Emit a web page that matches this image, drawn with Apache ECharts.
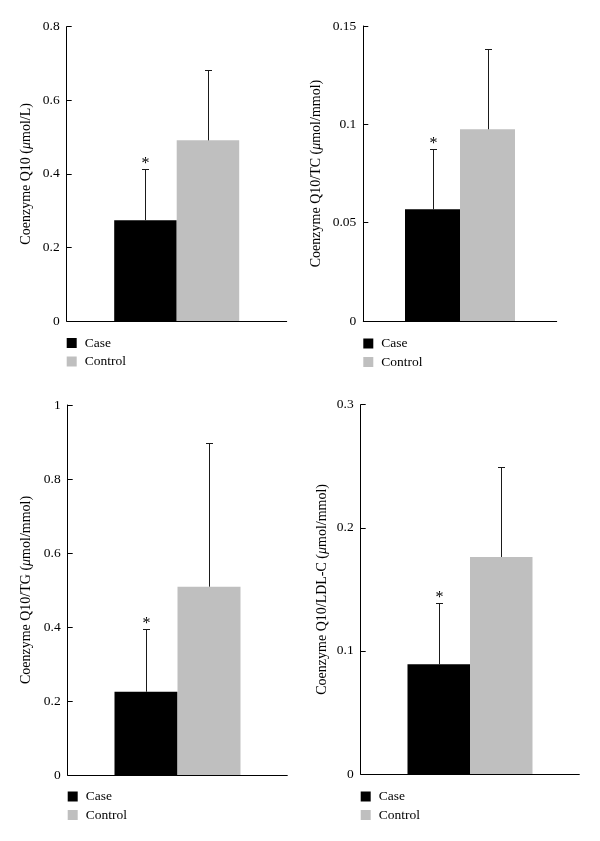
<!DOCTYPE html>
<html>
<head>
<meta charset="utf-8">
<script src="https://cdn.jsdelivr.net/npm/echarts@6/dist/echarts.min.js"></script>
<style>html,body{margin:0;padding:0;background:#fff}#c{width:600px;height:841px}</style>
</head>
<body>
<div id="c"></div>
<script>
const seriesNames = ['Case', 'Control'];
const yTitles = [
  'Coenzyme Q10 ({i|μ}mol/L)',
  'Coenzyme Q10/TC ({i|μ}mol/mmol)',
  'Coenzyme Q10/TG ({i|μ}mol/mmol)',
  'Coenzyme Q10/LDL-C ({i|μ}mol/mmol)'
];
const caseMeans = [0.274, 0.0568, 0.225, 0.0891];
const caseSD = [0.139, 0.0308, 0.170, 0.0501];
const controlMeans = [0.491, 0.0975, 0.509, 0.1763];
const controlSD = [0.191, 0.0407, 0.389, 0.0728];
const caseSignificant = [true, true, true, true];
const yMax = [0.8, 0.15, 1, 0.3];
const yInterval = [0.2, 0.05, 0.2, 0.1];

// layout (styles)
const grids = [
  {left: 66.7, top: 26.7, width: 220, height: 294.3},
  {left: 363.3, top: 26, width: 193.4, height: 295},
  {left: 67.7, top: 405, width: 219.6, height: 370},
  {left: 360.7, top: 404.7, width: 218.6, height: 369.3}
];
const barWidths = [62.5, 55, 63, 62.5];
const nameGaps = [33, 40, 34, 31];
const legendPos = [[66.7, 336], [363.3, 336.5], [67.7, 789.5], [360.7, 789.5]];
const FONT = 'Liberation Serif';
const FS = 13.5;

function makeRender(bw) {
  return function (params, api) {
    const cat = api.value(0), mean = api.value(1), sd = api.value(2), side = api.value(3), star = api.value(4);
    const base = api.coord([cat, mean]);
    const top = api.coord([cat, mean + sd]);
    const x = Math.round(base[0] + side * bw / 2) + 0.5;
    const ty = Math.round(top[1]) + 0.5;
    const children = [
      {type: 'line', shape: {x1: x, y1: base[1], x2: x, y2: ty}, style: {stroke: '#1a1a1a', lineWidth: 1}},
      {type: 'line', shape: {x1: x - 3.5, y1: ty, x2: x + 3.5, y2: ty}, style: {stroke: '#1a1a1a', lineWidth: 1}}
    ];
    if (star) {
      children.push({type: 'text', x: x, y: ty + 2, style: {text: '*', fontFamily: FONT, fontSize: 16, fill: '#000', align: 'center', verticalAlign: 'bottom'}});
    }
    return {type: 'group', children: children};
  };
}

const option = {animation: false, grid: [], xAxis: [], yAxis: [], series: [], legend: []};
for (let i = 0; i < 4; i++) {
  option.grid.push(Object.assign({containLabel: false}, grids[i]));
  option.xAxis.push({
    gridIndex: i, type: 'category', data: [''],
    axisLine: {show: true, lineStyle: {color: '#000', width: 1}},
    axisTick: {show: false}, axisLabel: {show: false}, splitLine: {show: false}
  });
  option.yAxis.push({
    gridIndex: i, type: 'value', min: 0, max: yMax[i], interval: yInterval[i],
    name: yTitles[i], nameLocation: 'middle', nameGap: nameGaps[i], nameRotate: 90,
    nameTextStyle: {fontFamily: FONT, fontSize: 14, color: '#000',
      rich: {i: {fontFamily: FONT, fontSize: 14, fontStyle: 'italic', color: '#000'}}},
    axisLine: {show: true, lineStyle: {color: '#000', width: 1}},
    axisTick: {show: true, inside: true, length: 5, lineStyle: {color: '#000', width: 1}},
    axisLabel: {fontFamily: FONT, fontSize: FS, color: '#000', margin: 7},
    splitLine: {show: false}
  });
  option.series.push({
    type: 'bar', name: seriesNames[0], xAxisIndex: i, yAxisIndex: i,
    data: [caseMeans[i]], barWidth: barWidths[i], barGap: '0%',
    itemStyle: {color: '#000'}
  });
  option.series.push({
    type: 'bar', name: seriesNames[1], xAxisIndex: i, yAxisIndex: i,
    data: [controlMeans[i]], barWidth: barWidths[i], barGap: '0%',
    itemStyle: {color: '#bfbfbf'}
  });
  option.series.push({
    type: 'custom', xAxisIndex: i, yAxisIndex: i, silent: true, z: 10,
    renderItem: makeRender(barWidths[i]),
    data: [
      [0, caseMeans[i], caseSD[i], -1, caseSignificant[i] ? 1 : 0],
      [0, controlMeans[i], controlSD[i], 1, 0]
    ]
  });
  option.legend.push({
    data: seriesNames, orient: 'vertical', left: legendPos[i][0], top: legendPos[i][1],
    padding: 0, icon: 'rect', itemWidth: 10, itemHeight: 10, itemGap: 4.5,
    selectedMode: false,
    textStyle: {fontFamily: FONT, fontSize: FS, color: '#000', padding: [0, 0, 0, 3]}
  });
}
const chart = echarts.init(document.getElementById('c'), null, {renderer: 'canvas'});
chart.setOption(option);
</script>
</body>
</html>
